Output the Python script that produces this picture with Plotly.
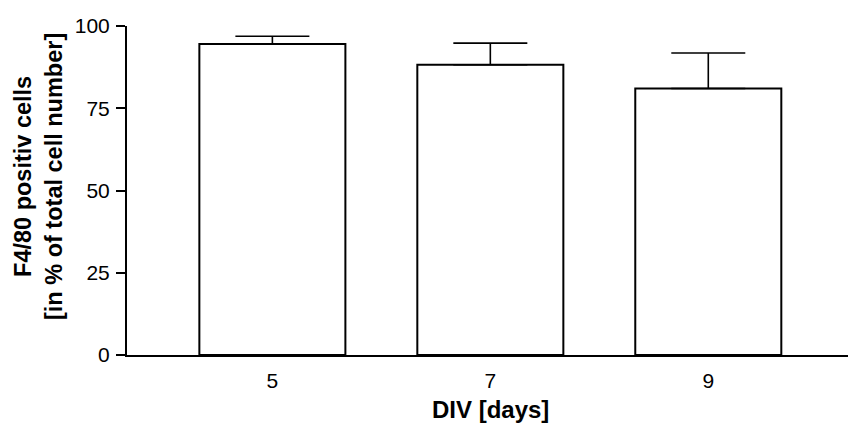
import plotly.graph_objects as go

categories = ["5", "7", "9"]
means = [94.5, 88.2, 81.0]
errors = [2.4, 6.6, 10.8]
y_ticks = [0, 25, 50, 75, 100]

fig = go.Figure()
fig.add_trace(go.Bar(
    x=[0, 1, 2],
    y=means,
    width=0.67,
    marker=dict(color="white", line=dict(color="black", width=2)),
    error_y=dict(type="data", symmetric=False, array=errors,
                 arrayminus=[0] * len(errors), color="black",
                 thickness=1.6, width=37),
    showlegend=False,
))

font_family = "Liberation Sans, Arial, sans-serif"
fig.update_layout(
    width=848, height=425,
    margin=dict(l=127, r=0, t=26, b=70),
    paper_bgcolor="white", plot_bgcolor="white",
    font=dict(family=font_family, color="black", size=21),
    xaxis=dict(
        range=[-0.667, 2.641],
        tickmode="array", tickvals=[0, 1, 2], ticktext=categories,
        ticks="", showgrid=False, zeroline=False,
        showline=True, linecolor="black", linewidth=2,
        tickfont=dict(size=21), ticklabelstandoff=6,
    ),
    yaxis=dict(
        range=[0, 100],
        tickmode="array", tickvals=y_ticks,
        ticks="outside", ticklen=9, tickwidth=1.5, tickcolor="black",
        showgrid=False, zeroline=False,
        showline=True, linecolor="black", linewidth=2,
        tickfont=dict(size=21), ticklabelstandoff=2,
    ),
)
plot_h = 425 - 26 - 70
fig.add_annotation(
    text="<b>DIV [days]</b>", xref="x", yref="paper",
    x=1, y=(425 - 70 - 409) / plot_h, showarrow=False,
    font=dict(size=24), xanchor="center", yanchor="middle",
)
fig.add_annotation(
    text="<b>F4/80 positiv cells<br>[in % of total cell number]</b>",
    xref="paper", yref="paper",
    x=(38 - 127) / (848 - 127), y=(425 - 70 - 177) / plot_h,
    showarrow=False, textangle=-90, font=dict(size=23.5),
    xanchor="center", yanchor="middle",
)

fig.write_html("out.html")
